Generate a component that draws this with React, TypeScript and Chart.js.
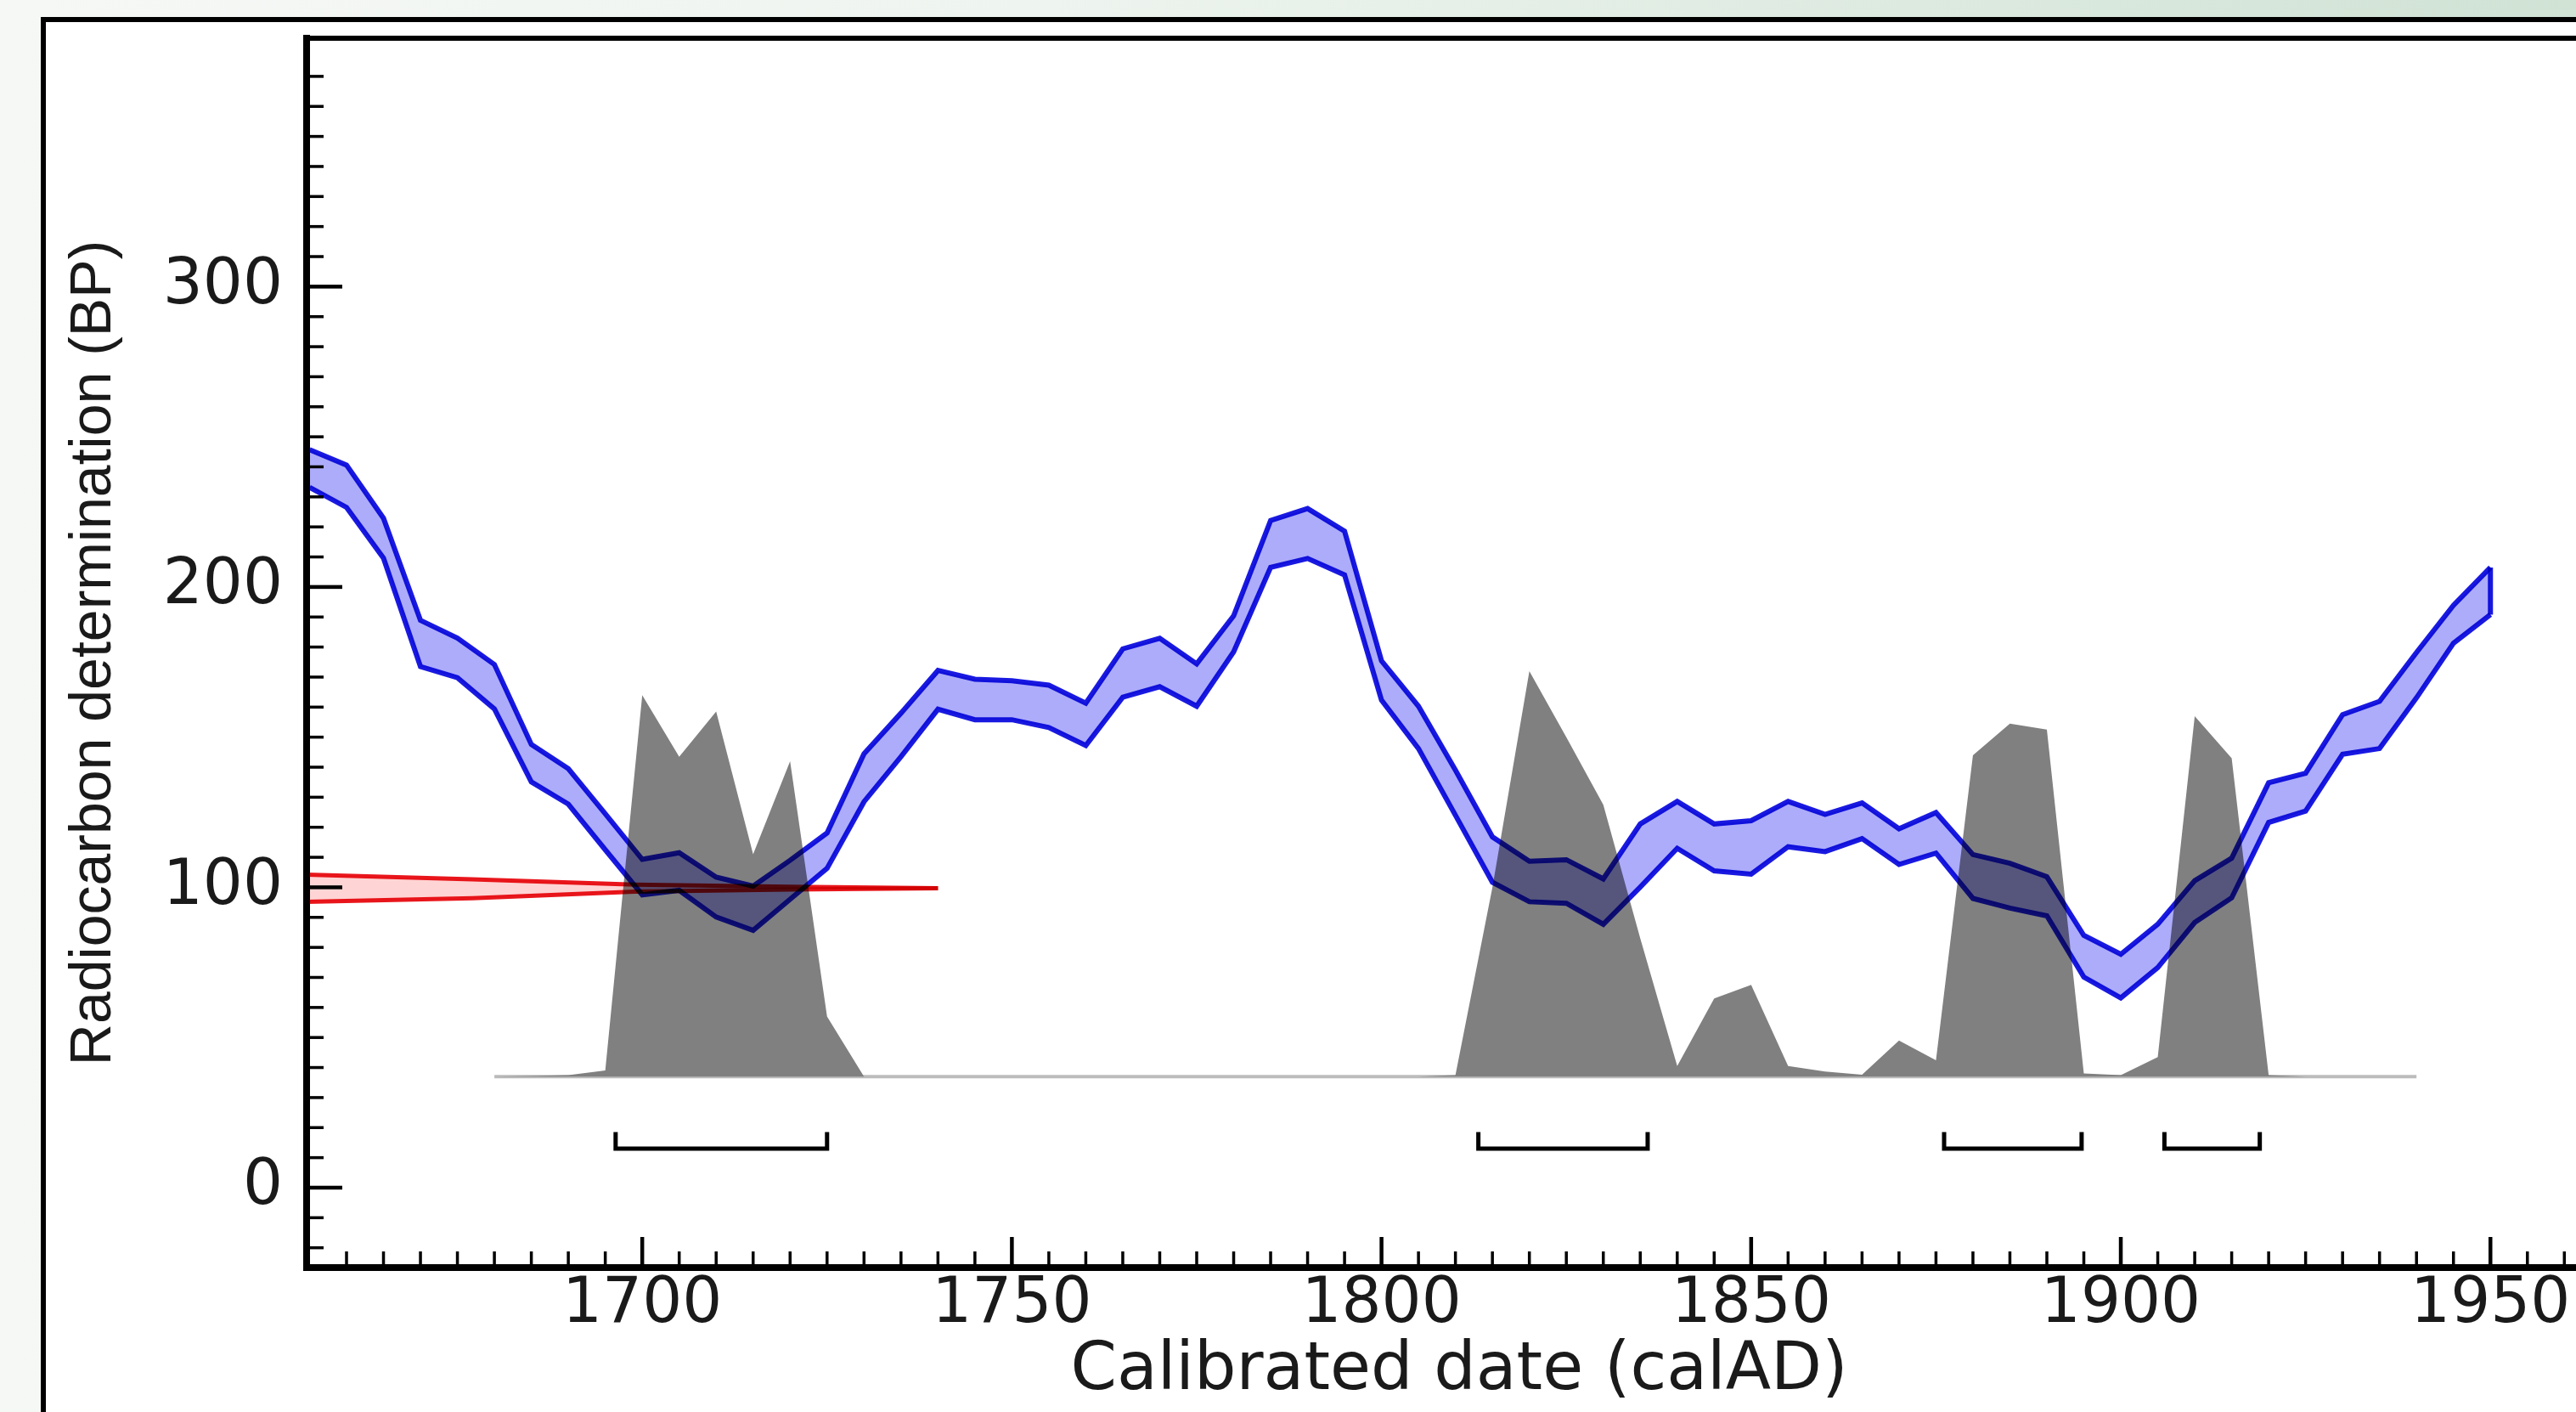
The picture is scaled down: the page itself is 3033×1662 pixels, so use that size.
import React, { useEffect, useRef } from 'react';
import { Chart, registerables } from 'chart.js';

// ---------------- DATA ----------------
const calYears = [
  1655, 1660, 1665, 1670, 1675, 1680, 1685, 1690, 1695, 1700,
  1705, 1710, 1715, 1720, 1725, 1730, 1735, 1740, 1745, 1750,
  1755, 1760, 1765, 1770, 1775, 1780, 1785, 1790, 1795, 1800,
  1805, 1810, 1815, 1820, 1825, 1830, 1835, 1840, 1845, 1850,
  1855, 1860, 1865, 1870, 1875, 1880, 1885, 1890, 1895, 1900,
  1905, 1910, 1915, 1920, 1925, 1930, 1935, 1940, 1945, 1950,
];
const calUpper = [
  245.7, 240.6, 222.9, 188.9, 183.0, 174.2, 147.6, 139.5, 124.5, 109.3,
  111.5, 103.4, 100.4, 109.0, 118.1, 144.5, 158.0, 172.2, 169.3, 168.8,
  167.3, 161.3, 179.4, 182.9, 174.4, 190.4, 222.1, 226.1, 218.6, 175.4,
  160.3, 139.0, 116.8, 108.7, 109.2, 102.8, 121.1, 128.6, 121.1, 122.2,
  128.6, 124.3, 128.1, 119.5, 124.9, 110.9, 108.0, 103.5, 84.0, 77.7,
  87.7, 102.2, 109.7, 134.8, 138.0, 157.5, 161.9, 178.2, 193.9, 206.5,
];
const calLower = [
  233.2, 226.5, 209.6, 173.5, 169.8, 159.4, 135.1, 127.7, 112.5, 97.5,
  99.0, 90.1, 85.7, 96.0, 106.3, 128.5, 143.5, 159.3, 155.8, 155.8,
  153.2, 147.2, 163.3, 166.8, 160.3, 178.4, 206.5, 209.5, 204.0, 162.3,
  146.2, 124.0, 101.7, 95.2, 94.7, 87.7, 100.1, 113.0, 105.5, 104.4,
  113.5, 111.9, 116.2, 107.6, 111.4, 96.3, 93.1, 90.5, 70.1, 63.2,
  73.3, 88.3, 96.5, 121.6, 125.4, 144.3, 146.2, 163.1, 181.3, 190.8,
];

// calibrated probability distribution, drawn on the BP scale above its baseline
const probYears = [
  1680, 1685, 1690, 1695, 1700, 1705, 1710, 1715, 1720, 1725,
  1730, 1735, 1740, 1745, 1750, 1755, 1760, 1765, 1770, 1775,
  1780, 1785, 1790, 1795, 1800, 1805, 1810, 1815, 1820, 1825,
  1830, 1835, 1840, 1845, 1850, 1855, 1860, 1865, 1870, 1875,
  1880, 1885, 1890, 1895, 1900, 1905, 1910, 1915, 1920, 1925,
  1930, 1935, 1940,
];
const probLevel = [
  37.0, 37.2, 37.5, 39.0, 164.0, 143.5, 158.5, 111.0, 142.0, 57.0,
  37.0, 37.0, 37.0, 37.0, 37.0, 37.0, 37.0, 37.0, 37.0, 37.0,
  37.0, 37.0, 37.0, 37.0, 37.0, 37.0, 37.5, 100.0, 172.0, 150.0,
  127.5, 83.0, 40.5, 63.0, 67.5, 40.5, 38.7, 37.6, 49.0, 42.4,
  144.0, 154.5, 152.5, 38.0, 37.5, 43.5, 157.0, 143.0, 37.5, 37.0,
  37.0, 37.0, 37.0,
];
const probBaseline = 37;
const baselineYears = [1680, 1940];

// radiocarbon measurement (red), upper and lower edge
const measYears = [1654.6, 1677, 1699, 1720, 1740];
const measUpper = [104.2, 102.7, 100.9, 100.2, 99.7];
const measLower = [95.2, 96.4, 98.6, 99.3, 99.7];

// 95.4% ranges (brackets)
const rangeStart = [1696.4, 1813.1, 1876.1, 1905.9];
const rangeEnd = [1725.0, 1836.0, 1894.7, 1918.8];
const rangeLevel = 13;
const rangeTip = 18.5;

// axes
const xMin = 1654.6;
const xMax = 1966.4;
const yMin = -26.6;
const yMax = 382.7;
const xMajorTicks = [1700, 1750, 1800, 1850, 1900, 1950];
const yMajorTicks = [0, 100, 200, 300];
const xTitle = 'Calibrated date (calAD)';
const yTitle = 'Radiocarbon determination (BP)';

// ---------------- PLUGINS ----------------
const blendPlugin = {
  id: 'multiplyBlend',
  beforeDatasetDraw(chart: any, args: any) {
    const ds = chart.data.datasets[args.index];
    if (ds && ds.blend) {
      chart.ctx.save();
      chart.ctx.globalCompositeOperation = 'multiply';
    }
  },
  afterDatasetDraw(chart: any, args: any) {
    const ds = chart.data.datasets[args.index];
    if (ds && ds.blend) chart.ctx.restore();
  },
};
Chart.register(blendPlugin);
Chart.register(...registerables);

const backgroundPlugin = {
  id: 'slideBackground',
  beforeDraw(chart: any) {
    const { ctx, width, height } = chart;
    ctx.save();
    const g = ctx.createLinearGradient(0, 0, width, 0);
    g.addColorStop(0, '#f6f8f6');
    g.addColorStop(0.4, '#eef4ef');
    g.addColorStop(1, '#cfe2d4');
    ctx.fillStyle = g;
    ctx.fillRect(0, 0, width, height);
    ctx.fillStyle = '#ffffff';
    ctx.fillRect(51, 23, width, height);
    ctx.fillStyle = '#000000';
    ctx.fillRect(48, 20, 6, height);
    ctx.fillRect(48, 20, width, 6);
    ctx.restore();
  },
};

const axisTicksPlugin = {
  id: 'inwardTicks',
  afterDraw(chart: any) {
    const { ctx, chartArea: a, scales } = chart;
    const xs = scales.x;
    const ys = scales.y;
    ctx.save();
    ctx.fillStyle = '#000000';
    // top frame of plot
    ctx.fillRect(a.left - 4, a.top - 3, a.right - a.left + 4, 6);
    // x ticks every 5 years, major every 50
    for (let v = 1660; v <= 1965; v += 5) {
      const px = xs.getPixelForValue(v);
      const major = v % 50 === 0;
      const len = major ? 36 : 19;
      const w = major ? 4.5 : 3.5;
      ctx.fillRect(px - w / 2, a.bottom - len, w, len);
    }
    // y ticks every 10, major every 100
    for (let v = -20; v <= 370; v += 10) {
      const py = ys.getPixelForValue(v);
      const major = v % 100 === 0;
      const len = major ? 42 : 20;
      const h = major ? 4.5 : 3.5;
      ctx.fillRect(a.left, py - h / 2, len, h);
    }
    ctx.restore();
  },
};

const pts = (xs: number[], ys: number[]) => xs.map((x, i) => ({ x, y: ys[i] }));

export default function App() {
  const ref = useRef<HTMLCanvasElement | null>(null);

  useEffect(() => {
    const canvas = ref.current;
    if (!canvas) return;

    const blue = 'rgb(25,25,225)';
    const red = 'rgb(232,22,28)';

    const datasets: any[] = [
      {
        label: 'baseline',
        data: pts(baselineYears, baselineYears.map(() => probBaseline)),
        borderColor: 'rgb(188,188,188)',
        borderWidth: 4,
        fill: false,
        order: 12,
      },
      {
        label: 'probability',
        data: pts(probYears, probLevel),
        borderColor: 'rgba(0,0,0,0)',
        borderWidth: 1,
        backgroundColor: 'rgb(128,128,128)',
        fill: { value: probBaseline },
        order: 11,
      },
      ...rangeStart.map((s, i) => ({
        label: 'range' + i,
        data: [
          { x: s, y: rangeTip },
          { x: s, y: rangeLevel },
          { x: rangeEnd[i], y: rangeLevel },
          { x: rangeEnd[i], y: rangeTip },
        ],
        borderColor: '#000000',
        borderWidth: 5,
        borderJoinStyle: 'miter',
        fill: false,
        order: 10,
      })),
      {
        label: 'IntCal upper',
        data: pts(calYears, calUpper),
        borderColor: blue,
        borderWidth: 6,
        fill: false,
        order: 6,
        blend: true,
      },
      {
        label: 'IntCal lower',
        data: pts(calYears, calLower),
        borderColor: blue,
        borderWidth: 6,
        backgroundColor: 'rgb(172,172,250)',
        fill: '-1',
        order: 5,
        blend: true,
      },
      {
        label: 'IntCal end',
        data: [
          { x: calYears[calYears.length - 1], y: calUpper[calUpper.length - 1] },
          { x: calYears[calYears.length - 1], y: calLower[calLower.length - 1] },
        ],
        borderColor: blue,
        borderWidth: 6,
        fill: false,
        order: 4,
        blend: true,
      },
      {
        label: 'measurement upper',
        data: pts(measYears, measUpper),
        borderColor: red,
        borderWidth: 5,
        fill: false,
        order: 3,
        blend: true,
      },
      {
        label: 'measurement lower',
        data: pts(measYears, measLower),
        borderColor: red,
        borderWidth: 5,
        backgroundColor: 'rgb(255,212,212)',
        fill: '-1',
        order: 2,
        blend: true,
      },
    ];

    const tickFont = { family: 'DejaVu Sans', size: 74 };

    const chart = new Chart(canvas, {
      type: 'line',
      data: { datasets },
      options: {
        responsive: false,
        animation: false,
        devicePixelRatio: 1,
        events: [],
        layout: { padding: { top: 45, left: 0, right: 0, bottom: 0 } },
        elements: {
          point: { radius: 0, hitRadius: 0, hoverRadius: 0 },
          line: { tension: 0, borderCapStyle: 'butt', borderJoinStyle: 'miter' },
        },
        plugins: {
          legend: { display: false },
          tooltip: { enabled: false },
          filler: { propagate: false },
        },
        scales: {
          x: {
            type: 'linear',
            position: 'bottom',
            min: xMin,
            max: xMax,
            grid: { display: false, drawTicks: false },
            border: { display: true, color: '#000000', width: 8 },
            ticks: {
              autoSkip: false,
              maxRotation: 0,
              minRotation: 0,
              padding: 0,
              color: '#1a1a1a',
              font: tickFont,
              callback: (v: any) => String(v),
            },
            afterBuildTicks: (scale: any) => {
              scale.ticks = xMajorTicks.map((v) => ({ value: v }));
            },
            afterFit: (scale: any) => {
              scale.height = 170;
              scale.paddingLeft = 0;
              scale.paddingRight = 0;
              scale.paddingTop = 0;
              scale.paddingBottom = 0;
            },
            title: {
              display: true,
              text: xTitle,
              color: '#1a1a1a',
              font: { family: 'DejaVu Sans', size: 78 },
              padding: { top: 0, bottom: 0 },
            },
          },
          y: {
            type: 'linear',
            position: 'left',
            min: yMin,
            max: yMax,
            grid: { display: false, drawTicks: false },
            border: { display: true, color: '#000000', width: 8 },
            ticks: {
              autoSkip: false,
              padding: 28,
              color: '#1a1a1a',
              font: tickFont,
              callback: (v: any) => String(v),
            },
            afterBuildTicks: (scale: any) => {
              scale.ticks = yMajorTicks.map((v) => ({ value: v }));
            },
            afterFit: (scale: any) => {
              scale.width = 361;
              scale.paddingLeft = 0;
              scale.paddingRight = 0;
              scale.paddingTop = 0;
              scale.paddingBottom = 0;
            },
            title: {
              display: true,
              text: yTitle,
              color: '#1a1a1a',
              font: { family: 'Liberation Sans', size: 68 },
              padding: { top: 70, bottom: 0 },
            },
          },
        },
      } as any,
      plugins: [backgroundPlugin, axisTicksPlugin],
    });

    return () => chart.destroy();
  }, []);

  return (
    <div
      style={{
        position: 'fixed',
        left: 0,
        top: 0,
        width: 3033,
        height: 1662,
        overflow: 'hidden',
        background: '#ffffff',
      }}
    >
      <canvas
        ref={ref}
        width={3075}
        height={1662}
        style={{ display: 'block', width: 3075, height: 1662 }}
      />
    </div>
  );
}
